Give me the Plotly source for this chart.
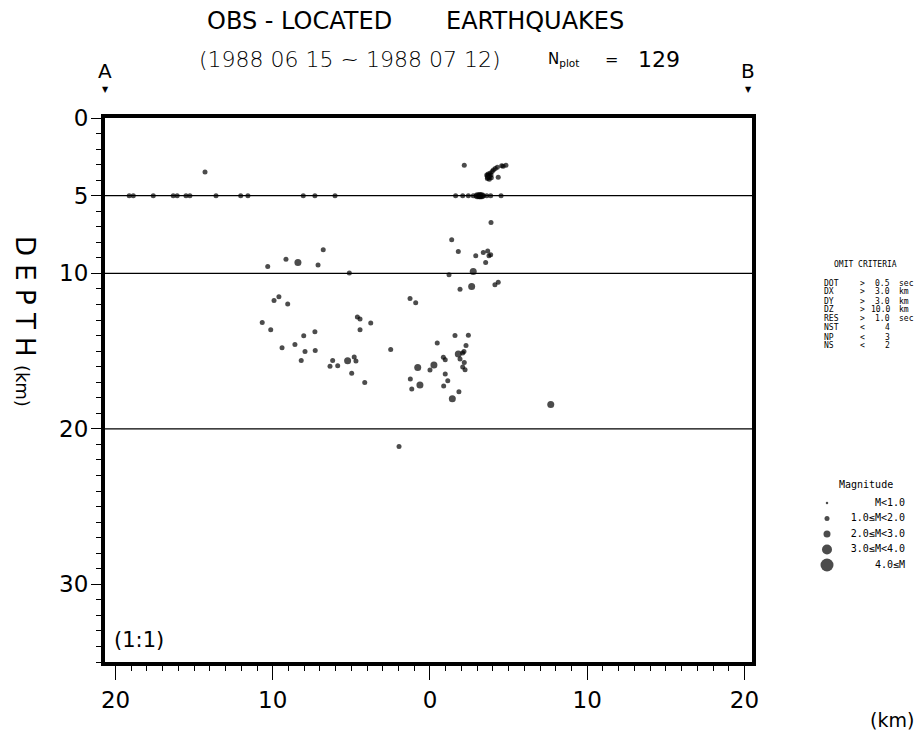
import plotly.graph_objects as go

W, H = 921, 735

# ---------------- data (distance along A-B in km, left of centre negative) ----------------
dist_km = [
    -19.13, -18.87, -17.60, -16.33, -16.08, -15.52, -15.27, -13.61, -12.04, -11.58, -8.06, -7.32, -6.04,
    -14.31,
    -10.32, -9.16, -8.40, -7.12, -6.79, -5.13,
    2.18,
    4.83, 4.56, 4.28, 4.03, 3.82, 3.71, 3.77, 3.88, 3.61, 4.34, 3.95, 4.65, 3.70, 3.90, 4.15, 3.65,
    1.63, 2.08, 2.44, 2.75, 3.01, 3.14, 3.29, 3.61, 3.86, 4.52, 3.20, 2.95, 3.40,
    3.88, 1.38, 1.80, 2.91, 3.39, 3.67, 3.75, 3.86, 3.54, 2.75, 1.21, 2.65, 4.34, 4.13, 1.91,
    -9.92, -9.61, -9.05, -10.67, -10.13, -8.03, -7.32, -9.41, -8.59, -7.95, -7.30, -8.19,
    -6.19, -6.36, -5.87, -5.24, -4.82, -4.71, -4.98, -4.15, -4.62, -4.45, -3.77, -4.45,
    -1.27, -0.91, -2.50, 0.46, -0.78, 0.25, 0.00, -1.25, -1.16, -0.64,
    1.59, 2.44, 2.29, 0.85, 0.97, 1.80, 1.91, 2.08, 2.16, 2.18, 2.08, 2.23, 0.97, 1.13, 0.87, 1.84, 1.42,
    7.68, -1.97,
]
depth_km = [
    5.0, 5.0, 5.0, 5.0, 5.0, 5.0, 5.0, 5.0, 5.0, 5.0, 5.0, 5.0, 5.0,
    3.47,
    9.56, 9.08, 9.30, 9.45, 8.48, 9.98,
    3.04,
    3.04, 3.08, 3.17, 3.34, 3.55, 3.77, 3.94, 3.66, 3.66, 3.81, 3.45, 3.10, 3.60, 3.85, 3.25, 3.90,
    5.0, 5.0, 5.0, 5.0, 5.0, 5.0, 5.0, 5.0, 5.0, 5.0, 5.0, 5.0, 5.0,
    6.73, 7.84, 8.59, 8.87, 8.65, 8.55, 8.87, 8.80, 9.30, 9.88, 10.09, 10.84, 10.56, 10.73, 11.01,
    11.74, 11.50, 11.97, 13.16, 13.62, 14.01, 13.75, 14.78, 14.57, 15.02, 14.96, 15.60,
    15.60, 15.98, 15.94, 15.62, 15.38, 15.64, 16.43, 17.01, 12.81, 12.94, 13.19, 13.62,
    11.61, 11.89, 14.89, 14.48, 16.05, 15.89, 16.21, 16.79, 17.44, 17.18,
    13.99, 13.97, 14.63, 15.40, 15.55, 15.19, 15.51, 15.12, 15.02, 15.73, 16.02, 16.20, 16.47, 16.90, 17.24, 17.61, 18.06,
    18.44, 21.14,
]
mag_class = [
    1, 1, 1, 1, 1, 1, 1, 1, 1, 1, 1, 1, 1,
    1,
    1, 1, 2, 1, 1, 1,
    1,
    1, 1, 1, 1, 1, 2, 1, 1, 1, 1, 1, 1, 1, 1, 1, 1,
    1, 1, 1, 1, 2, 2, 2, 1, 1, 1, 2, 1, 1,
    1, 1, 1, 1, 1, 1, 1, 1, 1, 2, 1, 2, 1, 1, 1,
    1, 1, 1, 1, 1, 1, 1, 1, 1, 1, 1, 1,
    1, 1, 1, 2, 1, 1, 1, 1, 1, 1, 1, 1,
    1, 1, 1, 1, 2, 2, 1, 1, 1, 2,
    1, 1, 1, 1, 1, 2, 1, 1, 1, 1, 1, 1, 1, 1, 1, 1, 2,
    2, 1,
]

mag_labels = ["M&lt;1.0", "1.0≤M&lt;2.0", "2.0≤M&lt;3.0", "3.0≤M&lt;4.0", "4.0≤M"]

depth_lines = [5, 10, 20]
x_tick_vals = [-20, -10, 0, 10, 20]
x_tick_text = ["20", "10", "0", "10", "20"]
x_mid_vals = [-15, -5, 5, 15]
x_top_vals = [-20, -15, -10, -5, 0, 5, 10, 15, 20]
y_left_vals = [0, 5, 10, 20, 30]
y_left_mid = [15, 25]
y_right_vals = [0, 10, 20, 30]
y_right_mid = [5, 15, 25]

omit_names = ["DOT", "DX", "DY", "DZ", "RES", "NST", "NP", "NS"]
omit_ops = ["&gt;", "&gt;", "&gt;", "&gt;", "&gt;", "&lt;", "&lt;", "&lt;"]
omit_vals = ["0.5", "3.0", "3.0", "10.0", "1.0", "4", "3", "2"]
omit_units = ["sec", "km", "km", "km", "sec", "", "", ""]

# ---------------- styles ----------------
mag_sizes = [2.5, 5, 7, 10, 13]
XR = [-20.67, 20.48]
YR = [35, 0]


def px(x):
    return x / W


def py(y):
    return 1 - y / H


XDOM = [px(105), px(752)]
YDOM = [py(662), py(118)]
SANS = "DejaVu Sans"
MONO = "DejaVu Sans Mono"
TICKFONT = dict(family=SANS, size=23, color="black")

fig = go.Figure()

fig.add_trace(go.Scatter(
    x=dist_km, y=depth_km, mode="markers",
    marker=dict(size=[mag_sizes[c] for c in mag_class], color="black", line=dict(width=0)),
    xaxis="x", yaxis="y", showlegend=False, hoverinfo="skip"))

# magnitude legend drawn on its own small axes
leg_rows = list(range(len(mag_labels)))
fig.add_trace(go.Scatter(
    x=[12] * len(leg_rows), y=leg_rows, mode="markers",
    marker=dict(size=mag_sizes, color="black", line=dict(width=0)),
    xaxis="x4", yaxis="y5", showlegend=False, hoverinfo="skip"))
fig.add_trace(go.Scatter(
    x=[90] * len(leg_rows), y=leg_rows, mode="text", text=mag_labels,
    textposition="middle left", textfont=dict(family=MONO, size=10, color="black"),
    xaxis="x4", yaxis="y5", showlegend=False, hoverinfo="skip"))

minor_b = dict(dtick=1, tick0=0, ticks="outside", ticklen=5, tickwidth=1, tickcolor="black", showgrid=False)
common = dict(showgrid=False, zeroline=False, tickcolor="black", automargin=False)

fig.update_layout(
    template="none",
    width=W, height=H, margin=dict(l=0, r=0, t=0, b=0, pad=0, autoexpand=False),
    paper_bgcolor="white", plot_bgcolor="white", showlegend=False,
    xaxis=dict(domain=XDOM, range=XR, anchor="y", tickmode="array", tickvals=x_tick_vals,
               ticktext=x_tick_text, ticks="outside", ticklen=14, tickwidth=1.3, minor=minor_b,
               showline=True, linewidth=4, linecolor="black", mirror=True, tickfont=TICKFONT,
               ticklabelstandoff=0, **common),
    xaxis2=dict(domain=XDOM, range=XR, anchor="y", overlaying="x", tickmode="array",
                tickvals=x_mid_vals, ticks="outside", ticklen=10, tickwidth=1.2,
                showticklabels=False, showline=False, **common),
    xaxis3=dict(domain=XDOM, range=XR, anchor="y", overlaying="x", side="top", tickmode="array",
                tickvals=x_top_vals, ticks="outside", ticklen=9, tickwidth=1.2,
                minor=dict(dtick=1, tick0=0, ticks="outside", ticklen=4, tickwidth=1, tickcolor="black"),
                showticklabels=False, showline=False, **common),
    yaxis=dict(domain=YDOM, range=YR, anchor="x", tickmode="array", tickvals=y_left_vals,
               ticks="outside", ticklen=10, tickwidth=1.2, minor=minor_b,
               showline=True, linewidth=4, linecolor="black", mirror=True, tickfont=TICKFONT,
               ticklabelstandoff=-2, **common),
    yaxis2=dict(domain=YDOM, range=YR, anchor="x", overlaying="y", side="left", tickmode="array",
                tickvals=y_left_mid, ticks="outside", ticklen=7, tickwidth=1.2,
                showticklabels=False, showline=False, **common),
    yaxis3=dict(domain=YDOM, range=YR, anchor="x", overlaying="y", side="right", tickmode="array",
                tickvals=y_right_vals, ticks="outside", ticklen=17, tickwidth=1.2,
                minor=dict(dtick=1, tick0=0, ticks="outside", ticklen=4, tickwidth=1, tickcolor="black"),
                tickfont=TICKFONT, ticklabelstandoff=0, showline=False, **common),
    yaxis4=dict(domain=YDOM, range=YR, anchor="x", overlaying="y", side="right", tickmode="array",
                tickvals=y_right_mid, ticks="outside", ticklen=8, tickwidth=1.2,
                showticklabels=False, showline=False, **common),
    xaxis4=dict(domain=[px(815), px(915)], range=[0, 100], anchor="y5", visible=False, automargin=False),
    yaxis5=dict(domain=[py(572.75), py(495.25)], range=[4.5, -0.5], anchor="x4", visible=False,
                automargin=False),
)

for d in depth_lines:
    fig.add_shape(type="line", xref="x domain", yref="y", x0=0, x1=1, y0=d, y1=d,
                  line=dict(color="black", width=1.2), layer="below")

ann = []


def A(x, y, text, size, family=SANS, xanchor="center", yanchor="middle", angle=0, weight=None):
    f = dict(family=family, size=size, color="black")
    if weight:
        f["weight"] = weight
    ann.append(dict(x=px(x), y=py(y), xref="paper", yref="paper", text=text, showarrow=False,
                    xanchor=xanchor, yanchor=yanchor, textangle=angle, font=f))


A(205, 21, "OBS - LOCATED", 24, xanchor="left")
A(444, 21, "EARTHQUAKES", 24, xanchor="left")
A(350, 59, "(1988 06 15 ~ 1988 07 12)", 22, weight=300)
A(546, 60, "N<sub>plot</sub>", 15, xanchor="left")
A(611, 59, "=", 16)
A(659, 59, "129", 22)
A(105, 71, "A", 20)
A(105, 89, "▼", 8)
A(748, 71, "B", 20)
A(748, 89, "▼", 8)
A(112, 640, "(1:1)", 21, xanchor="left")
A(892, 720, "(km)", 19)
A(25, 321, "D E P T H <span style='font-size:18px'>(km)</span>", 26, angle=90)

A(865, 265, "OMIT CRITERIA", 8, family=MONO)
row_y = [283, 292, 301, 309.5, 318.5, 327.5, 337, 346]
for i, yy in enumerate(row_y):
    A(822, yy, omit_names[i], 8, family=MONO, xanchor="left")
    A(858, yy, omit_ops[i], 8, family=MONO, xanchor="left")
    A(892, yy, omit_vals[i], 8, family=MONO, xanchor="right")
    if omit_units[i]:
        A(897, yy, omit_units[i], 8, family=MONO, xanchor="left")

A(866, 484, "Magnitude", 10, family=MONO)

fig.update_layout(annotations=ann)
fig.write_html("out.html", config={"displayModeBar": False},
               post_script="document.body.style.margin='0px';document.body.style.padding='0px';"
                           "document.body.style.overflow='hidden';")
